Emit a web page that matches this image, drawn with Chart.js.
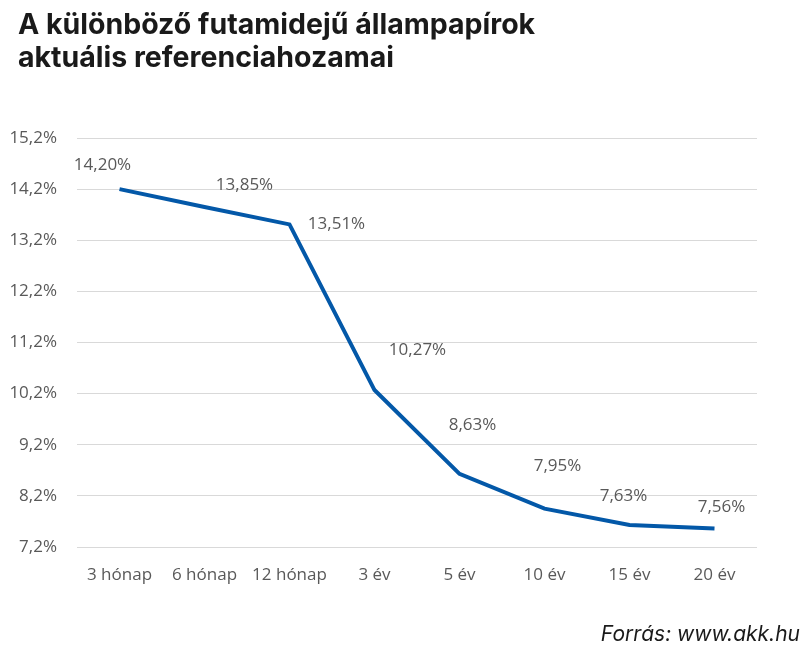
<!DOCTYPE html>
<html>
<head>
<meta charset="utf-8">
<script src="https://cdn.jsdelivr.net/npm/chart.js@4"></script>
<style>
  html, body { margin: 0; padding: 0; background: #fff; }
  #wrap { position: relative; width: 800px; height: 654px; overflow: hidden; }
  #title {
    position: absolute; left: 18px; top: 7px;
    font-family: Inter, "Noto Sans", sans-serif; font-weight: 700;
    font-size: 28.5px; line-height: 33px; color: #1a1a1a; letter-spacing: 0;
  }
  #source {
    position: absolute; right: 0; top: 621px;
    font-family: Inter, "Noto Sans", sans-serif; font-style: italic;
    font-size: 21px; color: #1a1a1a;
  }
  canvas { position: absolute; left: 0; top: 0; }
</style>
</head>
<body>
<div id="wrap">
  <canvas id="chart" width="800" height="654"></canvas>
  <div id="title">A különböző futamidejű állampapírok<br>aktuális referenciahozamai</div>
  <div id="source">Forrás: www.akk.hu</div>
</div>
<script>
// ── Data ──
const categories = ['3 hónap', '6 hónap', '12 hónap', '3 év', '5 év', '10 év', '15 év', '20 év'];
const yields = [14.20, 13.85, 13.51, 10.27, 8.63, 7.95, 7.63, 7.56];
const yTickMin = 7.2;
const yTickMax = 15.2;
const yTickStep = 1;

// label placement (px offset from each point, Excel-style manual placement)
const labelOffsets = [[-17, -24], [40, -22], [47, 0], [43, -40], [13, -49], [13, -43], [-6, -29], [7, -21]];

const fmt = (v, d) => v.toFixed(d).replace('.', ',') + '%';

const dataLabels = {
  id: 'dataLabels',
  afterDatasetsDraw(chart) {
    const ctx = chart.ctx;
    const meta = chart.getDatasetMeta(0);
    ctx.save();
    ctx.font = '17px "Open Sans", sans-serif';
    ctx.fillStyle = '#595959';
    ctx.textAlign = 'center';
    ctx.textBaseline = 'middle';
    meta.data.forEach((pt, i) => {
      const [dx, dy] = labelOffsets[i];
      ctx.fillText(fmt(yields[i], 2), pt.x + dx, pt.y + dy);
    });
    ctx.restore();
  }
};

new Chart(document.getElementById('chart'), {
  type: 'line',
  data: {
    labels: categories,
    datasets: [{
      data: yields,
      borderColor: '#0358a8',
      borderWidth: 4,
      pointRadius: 0,
      tension: 0,
      borderCapStyle: 'butt',
      borderJoinStyle: 'miter',
    }],
  },
  options: {
    responsive: false,
    animation: false,
    layout: { padding: { top: 138, right: 43, bottom: 0, left: 0 } },
    plugins: {
      legend: { display: false },
      tooltip: { enabled: false },
    },
    scales: {
      x: {
        offset: true,
        grid: { display: false, drawTicks: false, offset: true },
        border: { display: false },
        ticks: { color: '#595959', font: { family: '"Open Sans"', size: 17 }, padding: 18, maxRotation: 0, autoSkip: false },
        afterFit(scale) { scale.height = 107; },
      },
      y: {
        min: yTickMin,
        max: yTickMax,
        grid: { color: '#d9d9d9', lineWidth: 1, drawTicks: false },
        border: { display: false },
        ticks: {
          stepSize: yTickStep,
          color: '#595959',
          font: { family: '"Open Sans"', size: 17 },
          padding: 20,
          callback: v => fmt(v, 1),
        },
        afterFit(scale) { scale.width = 77; },
      },
    },
  },
  plugins: [dataLabels],
});
</script>
</body>
</html>
